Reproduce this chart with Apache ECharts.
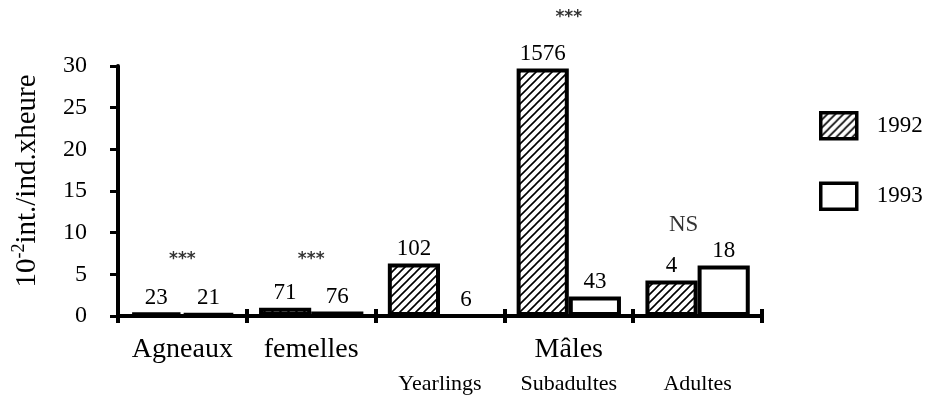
<!DOCTYPE html>
<html style="height: 100%; width: 100%">
  <head>
    <meta charset="utf-8" />
  </head>
  <body style="height: 100%; width: 100%; margin: 0; background: #fff">
    <div id="chart-panel" style="height: 402px; width: 932px"></div>
    <script
      type="text/javascript"
      src="https://cdn.jsdelivr.net/npm/echarts@6/dist/echarts.min.js"
    ></script>
    <script type="text/javascript">
      // data
      var categories = ["Agneaux", "femelles", "Yearlings", "Subadultes", "Adultes"];
      var topLine = ["Agneaux", "femelles", "", "Mâles", ""];
      var bottomLine = ["", "", "Yearlings", "Subadultes", "Adultes"];
      var values1992 = [0.45, 1.0, 6.3, 29.7, 4.25];
      var values1993 = [0.3, 0.55, 0, 2.35, 6.05];
      var n1992 = [23, 71, 102, 1576, 4];
      var n1993 = [21, 76, 6, 43, 18];
      var sigText = ["***", "***", "", "***", "NS"];
      var sigLevel = [7.3, 7.3, null, 36.3, 10.9];

      var serif = "'Liberation Serif', 'Times New Roman', serif";

      // hatch "////" pattern for 1992
      var hatch = document.createElement("canvas");
      hatch.width = 8;
      hatch.height = 8;
      var ctx = hatch.getContext("2d");
      ctx.fillStyle = "#fff";
      ctx.fillRect(0, 0, 8, 8);
      ctx.strokeStyle = "#000";
      ctx.lineWidth = 1.6;
      ctx.beginPath();
      ctx.moveTo(-1, 9);
      ctx.lineTo(9, -1);
      ctx.moveTo(-1, 1);
      ctx.lineTo(1, -1);
      ctx.moveTo(7, 9);
      ctx.lineTo(9, 7);
      ctx.stroke();

      var dom = document.getElementById("chart-panel");
      var myChart = echarts.init(dom);

      var sigData = [];
      for (var i = 0; i < categories.length; i++) {
        if (sigLevel[i] == null) continue;
        var item = { value: [categories[i], sigLevel[i], sigText[i]] };
        // "NS" sits a bit left of the pair, in plain serif
        if (sigText[i] === "NS")
          item.label = { fontFamily: serif, fontSize: 23, fontWeight: "normal", offset: [-14, 0] };
        sigData.push(item);
      }

      function nLabel(list) {
        return {
          show: true,
          position: "top",
          distance: 3,
          fontFamily: serif,
          fontSize: 23,
          color: "#000",
          formatter: function (p) {
            return list[p.dataIndex];
          },
        };
      }

      var option = {
        animation: false,
        textStyle: { fontFamily: serif, color: "#000" },
        grid: { left: 118, right: 170, top: 66, bottom: 86 },
        legend: {
          data: ["1992", "1993"],
          orient: "vertical",
          left: 819,
          top: 111,
          padding: 0,
          itemWidth: 36,
          itemHeight: 26,
          itemGap: 41,
          icon: "rect",
          itemStyle: { borderColor: "#000", borderWidth: 3.5 },
          textStyle: { fontFamily: serif, fontSize: 23, color: "#000", padding: [0, 0, 0, 15] },
        },
        xAxis: [
          {
            type: "category",
            data: categories,
            position: "bottom",
            axisLine: { lineStyle: { color: "#000", width: 4 } },
            axisTick: { show: true, interval: 0, length: 7, lineStyle: { width: 4, color: "#000" } },
            axisLabel: {
              interval: 0,
              margin: 18,
              color: "#000",
              formatter: function (v, i) {
                return "{big|" + (topLine[i] || " ") + "}\n{small|" + (bottomLine[i] || " ") + "}";
              },
              rich: {
                big: { fontFamily: serif, fontSize: 28, lineHeight: 32, color: "#000" },
                small: { fontFamily: serif, fontSize: 22, lineHeight: 36, color: "#000" },
              },
            },
          },
          {
            type: "category",
            data: categories,
            position: "bottom",
            axisLine: { show: false },
            axisTick: { show: true, inside: true, interval: 0, length: 7, lineStyle: { width: 4, color: "#000" } },
            axisLabel: { show: false },
          },
        ],
        yAxis: {
          type: "value",
          min: 0,
          max: 30,
          interval: 5,
          name: "{n|10}{s|-2}{n|int./ind.xheure}",
          nameLocation: "middle",
          nameRotate: 90,
          nameGap: 76,
          nameTextStyle: {
            padding: [0, 0, 0, 20],
            rich: {
              n: { fontFamily: serif, fontSize: 29, lineHeight: 32, color: "#000", verticalAlign: "bottom" },
              s: { fontFamily: serif, fontSize: 18, color: "#000", verticalAlign: "top" },
            },
          },
          axisLine: { show: true, lineStyle: { color: "#000", width: 4 } },
          axisTick: { show: true, length: 8, lineStyle: { width: 3, color: "#000" } },
          axisLabel: { fontFamily: serif, fontSize: 24, color: "#000", margin: 31 },
          splitLine: { show: false },
        },
        series: [
          {
            name: "1992",
            type: "bar",
            data: values1992,
            barGap: "0%",
            barCategoryGap: "19%",
            itemStyle: { color: { image: hatch, repeat: "repeat" }, borderColor: "#000", borderWidth: 4 },
            label: nLabel(n1992),
          },
          {
            name: "1993",
            type: "bar",
            data: values1993,
            itemStyle: { color: "#fff", borderColor: "#000", borderWidth: 4 },
            label: nLabel(n1993),
          },
          {
            type: "scatter",
            data: sigData,
            clip: false,
            symbolSize: 1,
            itemStyle: { color: "rgba(0,0,0,0)" },
            silent: true,
            label: {
              show: true,
              position: "inside",
              fontFamily: "'DejaVu Sans', sans-serif",
              color: "#000",
              fontSize: 17,
              fontWeight: "bold",
              offset: [0, 4],
              formatter: function (p) {
                return p.value[2];
              },
            },
          },
        ],
      };

      if (option && typeof option === "object") {
        myChart.setOption(option);
      }
    </script>
  </body>
</html>
